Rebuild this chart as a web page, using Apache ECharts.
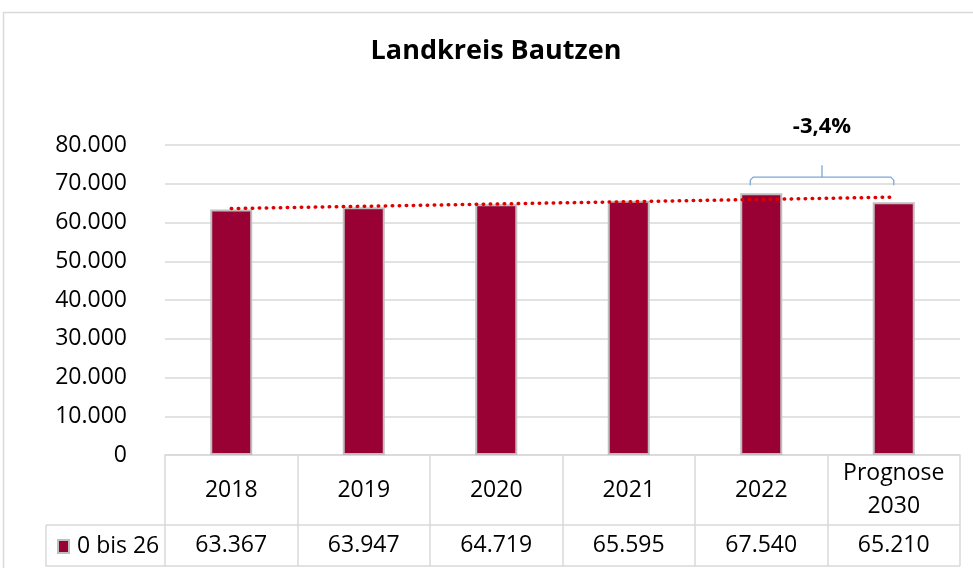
<!DOCTYPE html>
<html>
<head>
<meta charset="UTF-8">
<title>Landkreis Bautzen</title>
<script src="https://cdn.jsdelivr.net/npm/echarts@6/dist/echarts.min.js"></script>
<style>
html, body { margin: 0; padding: 0; background: #fff; }
#chart { width: 973px; height: 568px; }
</style>
</head>
<body>
<div id="chart"></div>
<script>
var categories = ['2018', '2019', '2020', '2021', '2022', 'Prognose\n2030'];
var values = [63367, 63947, 64719, 65595, 67540, 65210];
// Excel-Trendlinie, Endpunkte
var trendValues = [63600, null, null, null, null, 66550];
var yMin = 0, yMax = 80000, yStep = 10000;
var seriesName = '0 bis 26';
var changeLabel = '-3,4%';

var font = 'Open Sans';
var lineGray = '#d9d9d9';
var gridLeft = 165, gridRight = 13, gridTop = 145, gridBottom = 113;
var W = 973, H = 568;

function fmt(v) {
    return String(v).replace(/\B(?=(\d{3})+(?!\d))/g, '.');
}

var chart = echarts.init(document.getElementById('chart'));

var option = {
    animation: false,
    textStyle: { fontFamily: font },
    title: {
        text: 'Landkreis Bautzen',
        left: 491,
        top: 33,
        textAlign: 'center',
        textStyle: { fontFamily: font, fontSize: 27, fontWeight: 'bold', color: '#000' }
    },
    legend: {
        data: [seriesName],
        left: 57,
        top: 535,
        padding: 0,
        icon: 'rect',
        itemWidth: 11,
        itemHeight: 13,
        textStyle: { fontFamily: font, fontSize: 23, color: '#000', padding: [0, 0, 0, 3] }
    },
    grid: { left: gridLeft, right: gridRight, top: gridTop, bottom: gridBottom },
    xAxis: [
        {
            type: 'category',
            data: categories,
            position: 'bottom',
            axisLine: { lineStyle: { color: lineGray, width: 1.5 } },
            axisTick: { show: true, length: 111, lineStyle: { color: lineGray, width: 1.5 } },
            axisLabel: {
                fontFamily: font, fontSize: 23, color: '#000',
                margin: 35, verticalAlign: 'middle', lineHeight: 33, align: 'center'
            }
        },
        {
            type: 'category',
            data: categories,
            position: 'bottom',
            offset: 70,
            axisLine: { lineStyle: { color: lineGray, width: 1.5 } },
            axisTick: { show: false },
            axisLabel: {
                fontFamily: font, fontSize: 23, color: '#000',
                margin: 20, verticalAlign: 'middle',
                formatter: function (v, i) { return fmt(values[i]); }
            }
        }
    ],
    yAxis: {
        type: 'value',
        min: yMin,
        max: yMax,
        interval: yStep,
        axisLine: { show: false },
        axisTick: { show: false },
        splitLine: { lineStyle: { color: lineGray, width: 1.5 } },
        axisLabel: {
            fontFamily: font, fontSize: 23, color: '#000', margin: 38,
            formatter: function (v) { return fmt(v); }
        }
    },
    series: [
        {
            name: seriesName,
            type: 'bar',
            data: values,
            barWidth: 42,
            itemStyle: { color: '#990033', borderColor: '#bfbfbf', borderWidth: 2 }
        },
        {
            name: 'Trend',
            type: 'line',
            data: trendValues,
            connectNulls: true,
            symbol: 'none',
            z: 5,
            lineStyle: { color: '#e00000', width: 3.5, type: [0.5, 6.5], cap: 'round' }
        }
    ]
};
chart.setOption(option);

// Tabelle, Rahmen und Klammer als Grafik
var tableTop = H - gridBottom;
var rowSplit = tableTop + 70;
var tableBottom = tableTop + 111;
var legendLeft = 46;
var tableRight = W - gridRight;

var pL = chart.convertToPixel({ xAxisIndex: 0, yAxisIndex: 0 }, [4, 71700]);
var pR = chart.convertToPixel({ xAxisIndex: 0, yAxisIndex: 0 }, [5, 71700]);
var bx1 = pL[0] - 11, bx2 = pR[0], by = pL[1];
var bMid = (bx1 + bx2) / 2;
var blue = '#7aa7d8';
var bStyle = { stroke: blue, lineWidth: 1.3, fill: 'none' };
var r = 3;

chart.setOption({
    graphic: [
        { type: 'rect', shape: { x: 3.5, y: 12.5, width: 990, height: 600 },
          style: { fill: 'none', stroke: lineGray, lineWidth: 1.5 }, silent: true },
        { type: 'polyline', shape: { points: [[legendLeft, rowSplit], [legendLeft, tableBottom], [tableRight, tableBottom]] },
          style: { stroke: lineGray, lineWidth: 1.5, fill: 'none' } },
        { type: 'line', shape: { x1: legendLeft, y1: rowSplit, x2: gridLeft, y2: rowSplit },
          style: { stroke: lineGray, lineWidth: 1.5 } },
        { type: 'polyline', style: bStyle,
          shape: { points: [[bx1, by + 8], [bx1, by + r], [bx1 + r, by], [bx2 - r, by], [bx2, by + r], [bx2, by + 8]] } },
        { type: 'line', style: bStyle,
          shape: { x1: bMid, y1: by, x2: bMid, y2: by - 12 } },
        { type: 'text', x: bMid, y: by - 50,
          style: { text: changeLabel, fontFamily: font, fontSize: 22, fontWeight: 'bold', fill: '#000',
                   align: 'center', verticalAlign: 'middle' } }
    ]
});
</script>
</body>
</html>
